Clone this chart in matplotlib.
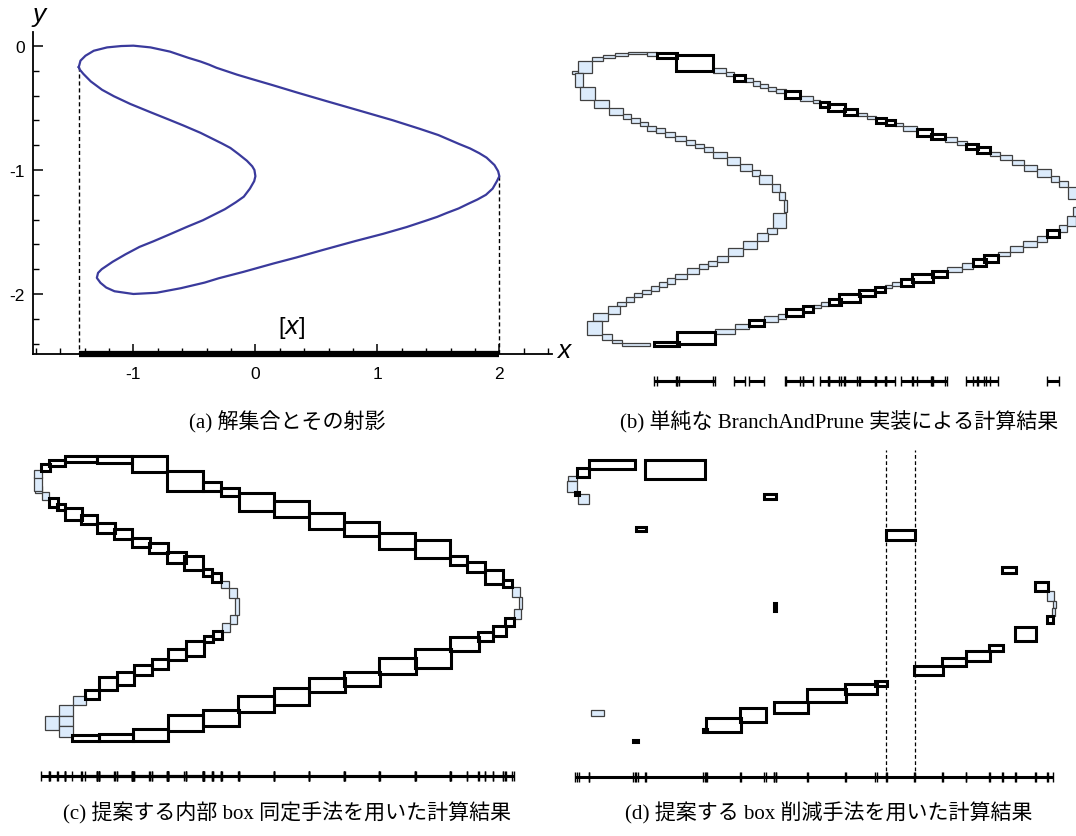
import matplotlib
matplotlib.use('Agg')
import matplotlib.pyplot as plt
from matplotlib.patches import Rectangle
from matplotlib.ticker import MultipleLocator

plt.rcParams['axes.unicode_minus'] = False

# ---- solution curve (panel a) ----
curve_x = [-1.448, -1.434, -1.393, -1.325, -1.216, -1.10, -1.0, -0.86, -0.70, -0.55, -0.45, -0.38, -0.32,
           -0.15, -0.034, 0.14, 0.345, 0.585, 0.843, 1.124, 1.348, 1.50, 1.67, 1.76, 1.835, 1.895, 1.96,
           1.99, 2.0, 1.98, 1.945, 1.89, 1.82, 1.75, 1.666, 1.57, 1.49, 1.40, 1.24, 1.046, 0.823, 0.553,
           0.334, 0.148, -0.10, -0.30, -0.416, -0.61, -0.81, -1.0, -1.155, -1.223, -1.27, -1.30, -1.29,
           -1.26, -1.17, -1.065, -0.95, -0.836, -0.717, -0.56, -0.43, -0.25, -0.16, -0.095, -0.045, -0.01,
           0.0, -0.008, -0.026, -0.07, -0.14, -0.205, -0.274, -0.36, -0.45, -0.59, -0.72, -0.857, -1.026,
           -1.16, -1.257, -1.35, -1.41, -1.44, -1.448]
curve_y = [-0.17, -0.118, -0.078, -0.038, -0.011, 0.0, 0.003, -0.011, -0.045, -0.095, -0.125, -0.15, -0.175,
           -0.231, -0.265, -0.315, -0.376, -0.445, -0.518, -0.598, -0.668, -0.718, -0.79, -0.826, -0.864,
           -0.90, -0.96, -1.01, -1.05, -1.09, -1.15, -1.20, -1.238, -1.27, -1.31, -1.346, -1.378, -1.408,
           -1.46, -1.515, -1.572, -1.645, -1.706, -1.754, -1.822, -1.873, -1.908, -1.953, -1.99, -2.0,
           -1.978, -1.948, -1.91, -1.87, -1.83, -1.80, -1.74, -1.68, -1.62, -1.575, -1.525, -1.458, -1.405,
           -1.316, -1.26, -1.215, -1.15, -1.09, -1.05, -1.0, -0.97, -0.925, -0.87, -0.822, -0.786, -0.744,
           -0.70, -0.641, -0.589, -0.535, -0.467, -0.405, -0.353, -0.285, -0.225, -0.19, -0.17]
proj_x = [-1.45, 2.0]
proj_top_y = [-0.17, -1.05]

# ---- boxes: (x0, x1, y_top, y_bottom) ----
b_bound = [
    (-1.457, -1.416, -0.125, -0.148), (-1.416, -1.320, -0.062, -0.144), (-1.439, -1.382, -0.144, -0.239),
    (-1.405, -1.302, -0.239, -0.323), (-1.309, -1.205, -0.323, -0.383), (-1.205, -1.114, -0.383, -0.428),
    (-1.114, -1.057, -0.421, -0.456), (-1.057, -0.995, -0.451, -0.483), (-0.995, -0.939, -0.478, -0.506),
    (-0.945, -0.889, -0.506, -0.535), (-0.889, -0.825, -0.519, -0.551), (-0.825, -0.757, -0.547, -0.581),
    (-0.757, -0.682, -0.574, -0.604), (-0.682, -0.620, -0.599, -0.633), (-0.620, -0.559, -0.626, -0.656),
    (-0.559, -0.495, -0.649, -0.683), (-0.495, -0.405, -0.679, -0.724), (-0.405, -0.314, -0.718, -0.770),
    (-0.314, -0.234, -0.763, -0.809), (-0.234, -0.177, -0.802, -0.843), (-0.184, -0.093, -0.838, -0.900),
    (-0.098, -0.041, -0.900, -0.957), (-0.045, -0.007, -0.952, -1.007), (-0.014, 0.005, -1.007, -1.093),
    (-0.091, 0.0, -1.098, -1.200), (-0.127, -0.064, -1.200, -1.241), (-0.200, -0.120, -1.235, -1.287),
    (-0.295, -0.200, -1.287, -1.344), (-0.393, -0.295, -1.339, -1.394), (-0.468, -0.393, -1.390, -1.431),
    (-0.530, -0.468, -1.424, -1.458), (-0.591, -0.530, -1.446, -1.481), (-0.677, -0.591, -1.476, -1.515),
    (-0.757, -0.677, -1.515, -1.549), (-0.814, -0.757, -1.544, -1.583), (-0.864, -0.809, -1.572, -1.606),
    (-0.923, -0.864, -1.599, -1.629), (-0.980, -0.923, -1.622, -1.651), (-1.036, -0.980, -1.647, -1.674),
    (-1.093, -1.036, -1.674, -1.708), (-1.150, -1.093, -1.704, -1.731), (-1.211, -1.132, -1.731, -1.788),
    (-1.314, -1.211, -1.781, -1.834), (-1.359, -1.257, -1.834, -1.932), (-1.257, -1.189, -1.925, -1.970),
    (-1.189, -1.120, -1.970, -1.986), (-1.120, -0.927, -1.986, -2.005),
    (-0.484, -0.348, -1.891, -1.925), (-0.348, -0.250, -1.856, -1.891), (-0.150, -0.052, -1.804, -1.841),
    (-0.052, 0.0, -1.788, -1.822), (0.182, 0.236, -1.727, -1.749), (0.236, 0.295, -1.708, -1.731),
    (0.675, 0.720, -1.590, -1.613), (0.720, 0.782, -1.572, -1.599), (1.100, 1.198, -1.469, -1.499),
    (1.198, 1.277, -1.440, -1.481), (1.448, 1.527, -1.362, -1.394), (1.527, 1.618, -1.326, -1.367),
    (1.618, 1.714, -1.287, -1.333), (1.714, 1.782, -1.253, -1.294), (1.861, 1.914, -1.180, -1.226),
    (1.914, 1.977, -1.116, -1.185), (1.959, 2.0, -1.059, -1.116), (1.925, 2.0, -0.923, -1.002),
    (-1.320, -1.245, -0.034, -0.062), (-1.245, -1.166, -0.016, -0.041), (-1.166, -1.075, -0.005, -0.023),
    (-1.075, -0.945, 0.0, -0.009), (-0.945, -0.882, 0.0, -0.023), (-0.495, -0.409, -0.109, -0.141),
    (-0.409, -0.355, -0.137, -0.164), (-0.280, -0.227, -0.178, -0.205), (-0.227, -0.177, -0.198, -0.228),
    (-0.177, -0.120, -0.216, -0.246), (-0.120, -0.068, -0.235, -0.262), (-0.068, 0.0, -0.251, -0.278),
    (0.095, 0.182, -0.301, -0.330), (0.182, 0.232, -0.323, -0.346), (0.482, 0.555, -0.415, -0.437),
    (0.555, 0.614, -0.433, -0.456), (0.743, 0.795, -0.483, -0.506), (0.795, 0.891, -0.501, -0.535),
    (1.084, 1.164, -0.581, -0.615), (1.164, 1.232, -0.604, -0.633), (1.391, 1.459, -0.679, -0.706),
    (1.459, 1.543, -0.702, -0.733), (1.543, 1.623, -0.733, -0.770), (1.623, 1.714, -0.770, -0.809),
    (1.714, 1.805, -0.797, -0.854), (1.805, 1.864, -0.843, -0.884), (1.864, 1.925, -0.877, -0.923),
]
b_inner = [
    (-0.882, -0.745, -0.005, -0.041), (-0.752, -0.495, -0.018, -0.130), (-0.355, -0.280, -0.155, -0.194),
    (-0.007, 0.095, -0.267, -0.312), (0.232, 0.295, -0.337, -0.371), (0.289, 0.402, -0.353, -0.399),
    (0.395, 0.482, -0.387, -0.426), (0.614, 0.682, -0.449, -0.483), (0.682, 0.743, -0.460, -0.497),
    (0.891, 0.993, -0.524, -0.569), (0.986, 1.084, -0.558, -0.592), (1.227, 1.311, -0.626, -0.661),
    (1.305, 1.391, -0.649, -0.688),
    (-0.900, -0.727, -1.977, -2.005), (-0.741, -0.484, -1.913, -1.993), (-0.250, -0.150, -1.829, -1.872),
    (0.0, 0.118, -1.754, -1.804), (0.114, 0.182, -1.731, -1.777), (0.295, 0.373, -1.686, -1.727),
    (0.364, 0.505, -1.651, -1.708), (0.500, 0.607, -1.622, -1.667), (0.607, 0.675, -1.606, -1.640),
    (0.782, 0.864, -1.549, -1.595), (0.857, 1.005, -1.515, -1.572), (0.993, 1.100, -1.492, -1.538),
    (1.273, 1.364, -1.412, -1.458), (1.350, 1.448, -1.385, -1.431), (1.782, 1.861, -1.212, -1.264),
]

c_bound = [
    (1.934, 1.993, -0.923, -0.998), (1.986, 2.009, -0.998, -1.079), (1.950, 2.0, -1.079, -1.150),
    (-1.267, -1.172, -1.750, -1.827), (-1.366, -1.267, -1.827, -1.928), (-1.267, -1.172, -1.827, -1.902),
    (-1.267, -1.172, -1.902, -1.974), (-1.172, -1.078, -1.692, -1.750),
    (-0.118, -0.059, -1.180, -1.238), (-0.059, -0.007, -1.121, -1.185), (-0.024, 0.002, -1.005, -1.121),
    (-0.064, -0.007, -0.935, -1.005), (-0.125, -0.064, -0.881, -0.935),
    (-1.392, -1.337, -0.262, -0.313), (-1.439, -1.392, -0.215, -0.266), (-1.446, -1.392, -0.157, -0.250),
    (-1.446, -1.392, -0.103, -0.164),
]
c_inner = [
    (-1.226, -1.002, -0.005, -0.047), (-1.002, -0.755, -0.005, -0.056), (-0.755, -0.507, -0.005, -0.117),
    (-0.507, -0.252, -0.110, -0.250), (-0.252, -0.125, -0.192, -0.250), (-0.125, 0.005, -0.234, -0.285),
    (0.005, 0.252, -0.266, -0.390), (0.252, 0.500, -0.325, -0.437), (0.500, 0.748, -0.407, -0.519),
    (0.748, 0.998, -0.467, -0.570), (0.998, 1.250, -0.549, -0.659), (1.250, 1.498, -0.596, -0.724),
    (1.498, 1.620, -0.710, -0.771), (1.620, 1.745, -0.752, -0.818), (1.745, 1.870, -0.806, -0.904),
    (1.870, 1.934, -0.874, -0.928),
    (1.887, 1.950, -1.143, -1.196), (1.800, 1.894, -1.196, -1.266), (1.698, 1.800, -1.243, -1.301),
    (1.498, 1.705, -1.273, -1.371), (1.250, 1.502, -1.360, -1.493), (0.998, 1.257, -1.423, -1.535),
    (0.748, 1.002, -1.519, -1.621), (0.500, 0.755, -1.565, -1.664), (0.252, 0.500, -1.636, -1.752),
    (0.0, 0.252, -1.692, -1.804), (-0.252, 0.007, -1.785, -1.897), (-0.500, -0.252, -1.822, -1.937),
    (-0.743, -0.495, -1.921, -2.002), (-0.983, -0.743, -1.956, -2.002), (-1.179, -0.983, -1.960, -2.007),
    (-1.083, -0.983, -1.645, -1.710), (-0.983, -0.861, -1.558, -1.645), (-0.861, -0.736, -1.523, -1.610),
    (-0.736, -0.613, -1.470, -1.540), (-0.613, -0.495, -1.430, -1.500), (-0.495, -0.373, -1.360, -1.435),
    (-0.373, -0.243, -1.306, -1.411), (-0.243, -0.182, -1.266, -1.313), (-0.182, -0.118, -1.231, -1.290),
    (-0.189, -0.123, -0.827, -0.888), (-0.248, -0.189, -0.799, -0.846), (-0.382, -0.248, -0.710, -0.804),
    (-0.507, -0.373, -0.682, -0.757), (-0.632, -0.500, -0.619, -0.689), (-0.755, -0.625, -0.579, -0.647),
    (-0.877, -0.750, -0.519, -0.589), (-1.002, -0.873, -0.479, -0.549), (-1.116, -0.998, -0.421, -0.484),
    (-1.226, -1.108, -0.374, -0.456), (-1.281, -1.226, -0.343, -0.383), (-1.337, -1.278, -0.304, -0.362),
    (-1.396, -1.333, -0.063, -0.114), (-1.337, -1.226, -0.033, -0.075),
]

d_bound = [
    (-1.454, -1.395, -0.126, -0.157), (-1.461, -1.395, -0.157, -0.238), (-1.384, -1.306, -0.250, -0.320),
    (-1.296, -1.200, -1.762, -1.804), (1.927, 1.976, -0.932, -0.998), (1.969, 1.986, -0.998, -1.051),
    (1.958, 1.981, -1.051, -1.107),
]
d_inner = [
    (-1.391, -1.306, -0.070, -0.129), (-1.306, -0.984, -0.009, -0.075), (-0.913, -0.489, -0.009, -0.145),
    (-0.073, 0.012, -0.250, -0.285), (-0.976, -0.906, -0.479, -0.512), (0.788, 0.993, -0.500, -0.570),
    (1.609, 1.706, -0.759, -0.804), (1.840, 1.929, -0.864, -0.932), (1.922, 1.965, -1.107, -1.157),
    (1.699, 1.847, -1.185, -1.278), (1.515, 1.616, -1.308, -1.353), (1.351, 1.522, -1.348, -1.418),
    (1.186, 1.353, -1.400, -1.458), (0.988, 1.193, -1.453, -1.516), (0.711, 0.798, -1.558, -1.593),
    (0.499, 0.722, -1.582, -1.652), (0.233, 0.504, -1.617, -1.710), (0.0, 0.240, -1.710, -1.787),
    (-0.242, -0.061, -1.750, -1.850), (-0.485, -0.235, -1.820, -1.921), (-0.995, -0.960, -1.972, -1.991),
    (0.0, 0.009, -1.016, -1.068), (-0.500, -0.478, -1.897, -1.916), (-1.410, -1.380, -0.238, -0.257),
]
d_marked_x = [0.788, 0.993]

captions = ['(a) 解集合とその射影', '(b) 単純な BranchAndPrune 実装による計算結果',
            '(c) 提案する内部 box 同定手法を用いた計算結果', '(d) 提案する box 削減手法を用いた計算結果']

W, H = 1076, 837
fig = plt.figure(figsize=(W / 100, H / 100), dpi=100)


def px_axes(left, top, right, bottom):
    return fig.add_axes([left / W, 1 - bottom / H, (right - left) / W, (bottom - top) / H])


def draw_boxes(ax, bound, inner, bar_y):
    for x0, x1, yt, yb in bound:
        ax.add_patch(Rectangle((x0, yb), x1 - x0, yt - yb, facecolor='#dcebfb',
                               edgecolor='#404040', lw=0.9, zorder=2))
    for x0, x1, yt, yb in inner:
        ax.add_patch(Rectangle((x0, yb), x1 - x0, yt - yb, facecolor='none',
                               edgecolor='black', lw=2.2, joinstyle='miter', zorder=3))
        ax.plot([x0, x1], [bar_y, bar_y], color='black', lw=2.2, solid_capstyle='butt', zorder=3)
        ax.plot([x0, x1], [bar_y, bar_y], ls='none', marker='|', ms=7, mew=1.0, color='black', zorder=4)
    ax.set_axis_off()


# ---- (a) ----
ax = px_axes(33.4, 33.4, 551.8, 354.5)
ax.set_xlim(-1.82, 2.43)
ax.set_ylim(-2.48, 0.11)
ax.plot(curve_x, curve_y, color='#3a3a9c', lw=1.6, zorder=3)
for xv, yv in zip(proj_x, proj_top_y):
    ax.plot([xv, xv], [yv, -2.48], color='black', lw=1, ls=(0, (3, 2)))
ax.plot(proj_x, [-2.48, -2.48], color='black', lw=4.5, solid_capstyle='butt', clip_on=False, zorder=4)
ax.text(0.3, -2.27, '[$x$]', fontsize=17, ha='center', va='center', family='Liberation Sans')
for s in ['top', 'right']:
    ax.spines[s].set_visible(False)
for s in ['left', 'bottom']:
    ax.spines[s].set_linewidth(1.3)
ax.set_xticks([-1, 0, 1, 2])
ax.set_yticks([0, -1, -2])
ax.xaxis.set_minor_locator(MultipleLocator(0.2))
ax.yaxis.set_minor_locator(MultipleLocator(0.2))
ax.tick_params(which='major', direction='in', length=7, width=1.1, labelsize=12.5)
ax.tick_params(axis='x', which='major', pad=9)
ax.tick_params(axis='y', which='major', pad=6)
ax.tick_params(which='minor', direction='in', length=4, width=1.0)
for lab in ax.get_xticklabels() + ax.get_yticklabels():
    lab.set_family('Liberation Sans')
fig.text(564 / W, 1 - 351 / H, 'x', fontsize=19, style='italic', ha='center', va='center',
         family='Liberation Sans')
fig.text(39 / W, 1 - 15 / H, 'y', fontsize=19, style='italic', ha='center', va='center',
         family='Liberation Sans')

# ---- (b) ----
ax = px_axes(551.3, 38.7, 1076, 404.4)
ax.set_xlim(-1.6, 1.977)
ax.set_ylim(-2.4, 0.1)
draw_boxes(ax, b_bound, b_inner, -2.25)

# ---- (c) ----
ax = px_axes(12.2, 441.7, 535.0, 798.5)
ax.set_xlim(-1.6, 2.1)
ax.set_ylim(-2.4, 0.1)
draw_boxes(ax, c_bound, c_inner, -2.25)

# ---- (d) ----
ax = px_axes(547.6, 445.0, 1071.9, 801.8)
ax.set_xlim(-1.6, 2.1)
ax.set_ylim(-2.4, 0.1)
draw_boxes(ax, d_bound, d_inner, -2.23)
for xv in d_marked_x:
    ax.plot([xv, xv], [-2.23, 0.06], color='black', lw=0.9, ls=(0, (3, 2)))

# ---- captions ----
cap_font = ['Liberation Serif', 'Noto Sans CJK JP']
for txt, (cx, cy) in zip(captions, [(287, 422), (839, 422), (287, 813), (829, 813)]):
    fig.text(cx / W, 1 - cy / H, txt, fontsize=15.1, ha='center', va='center', family=cap_font)

fig.savefig('out.png', dpi=100)
